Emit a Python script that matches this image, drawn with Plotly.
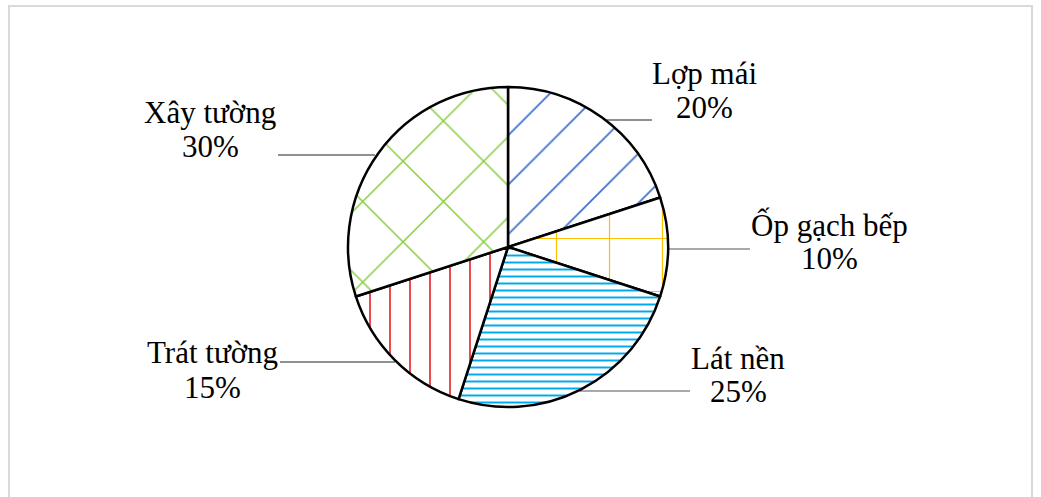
import plotly.graph_objects as go

W, H = 1041, 497

labels = ["Lợp mái", "Ốp gạch bếp", "Lát nền", "Trát tường", "Xây tường"]
values = [20, 10, 25, 15, 30]

# styling (not data)
pat_shapes = ["/", "+", "-", "|", "x"]
pat_colors = ["#3f6fcc", "#ffbf00", "#00a8ec", "#e51d22", "#86cc3c"]
pat_sizes = [35, 53, 7, 20, 57]
pat_solid = [0.05, 0.045, 0.28, 0.08, 0.05]

# label placement in pixels: (center x, baseline line1, baseline line2)
label_pos = [(704, 84, 118), (829, 235, 269), (738, 369, 402), (212, 363, 398), (210, 123, 157)]
# leader lines: (x0, x1, y)
leaders = [(603, 652, 120), (667, 750, 249), (580, 690, 391), (280, 395, 362), (278, 375, 155)]
leader_colors = ["#222222", "#555555", "#555555", "#222222", "#222222"]

cx, cy, r = 508, 247, 160

fig = go.Figure(go.Pie(
    labels=labels, values=values, sort=False, direction="clockwise", rotation=0,
    textinfo="none", hoverinfo="label+percent",
    marker=dict(
        colors=["white"] * 5,
        line=dict(color="black", width=2.5),
        pattern=dict(shape=pat_shapes, fgcolor=pat_colors, bgcolor="white",
                     size=pat_sizes, solidity=pat_solid, fillmode="replace"),
    ),
    domain=dict(x=[(cx - r) / W, (cx + r) / W], y=[1 - (cy + r) / H, 1 - (cy - r) / H]),
    showlegend=False,
))

FONT = dict(family="Liberation Serif, Times New Roman, serif", size=31, color="black")
ann = []
shapes = []
for lab, val, (x, b1, b2) in zip(labels, values, label_pos):
    for txt, b in ((lab, b1), (f"{val}%", b2)):
        ann.append(dict(text=txt, x=x / W, y=1 - (b - 10.5) / H, xref="paper", yref="paper",
                        xanchor="center", yanchor="middle", showarrow=False, font=FONT))
for (x0, x1, y), c in zip(leaders, leader_colors):
    shapes.append(dict(type="line", xref="paper", yref="paper", x0=x0 / W, x1=x1 / W,
                       y0=1 - y / H, y1=1 - y / H, line=dict(color=c, width=1.2), layer="below"))
# outer frame
for (x0, y0, x1, y1) in [(8, 6, 1033, 6), (9, 5, 9, 520), (1032, 5, 1032, 520)]:
    shapes.append(dict(type="line", xref="paper", yref="paper", x0=x0 / W, x1=x1 / W,
                       y0=1 - y0 / H, y1=1 - y1 / H, line=dict(color="#d9d9d9", width=2)))

fig.update_layout(width=W, height=H, margin=dict(l=0, r=0, t=0, b=0),
                  paper_bgcolor="white", plot_bgcolor="white",
                  annotations=ann, shapes=shapes)
fig.write_html("out.html")
